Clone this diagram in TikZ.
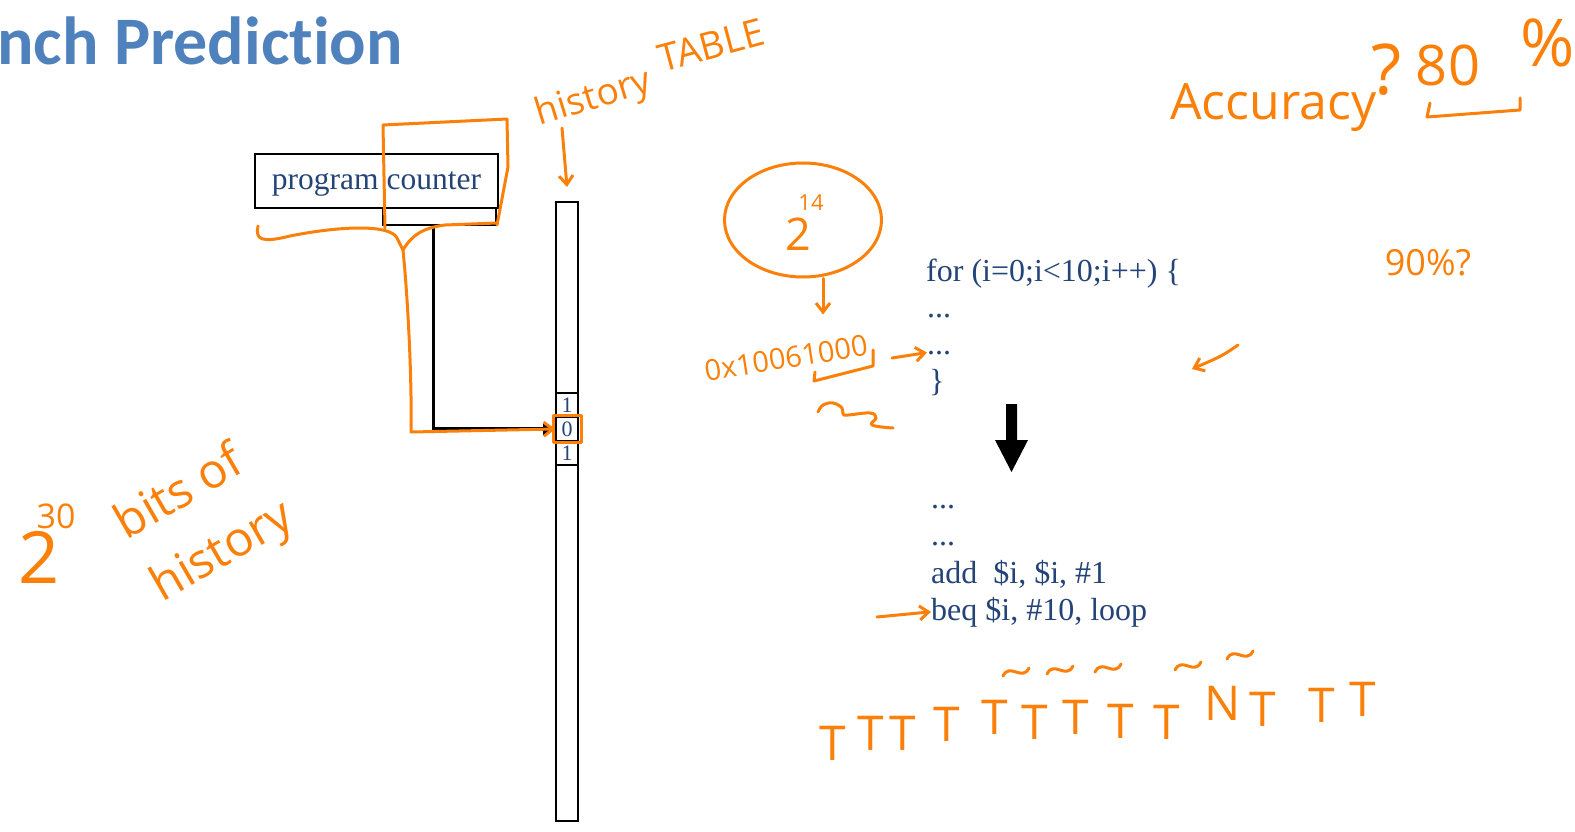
\documentclass[tikz,border=0pt]{standalone}
\usepackage{fontspec}
\setmainfont{Liberation Serif}
\newfontfamily\titlefont[Ligatures=NoCommon]{Carlito}
\newfontfamily\handfont{Open Sans}
\usetikzlibrary{arrows.meta,shapes.geometric}
\definecolor{titleblue}{RGB}{79,129,189}
\definecolor{slidetext}{RGB}{36,68,120}
\definecolor{orangeink}{RGB}{250,128,10}
\newcommand\inksize[1]{\fontsize{#1}{#1}\selectfont}
\tikzset{
  ink/.style={draw=orangeink, line width=3pt, line cap=round, line join=round},
  inkarrow/.style={ink, -{Straight Barb[length=9pt,width=14pt]}},
  inktext/.style={text=orangeink, inner sep=0pt, font=\handfont\inksize{#1}},
  codeline/.style={text=slidetext, anchor=base west, inner sep=0pt, font=\fontsize{32}{37}\selectfont},
  cell/.style={draw, line width=1.6pt, minimum width=22pt, minimum height=24pt, inner sep=0pt, text depth=0pt, text=slidetext, font=\fontsize{22}{24}\selectfont},
}
\begin{document}
\begin{tikzpicture}[x=1pt,y=-1pt]
\useasboundingbox (0,0) rectangle (1575,832);

% slide title
\node[anchor=base west, inner sep=0pt, text=titleblue, font=\titlefont\bfseries\fontsize{68}{72}\selectfont] (title) at (-3,65) {nch Prediction};

% program counter and index bits
\node[draw, line width=2pt, minimum width=243pt, minimum height=54pt, text depth=0pt, text=slidetext, font=\fontsize{31.5}{37}\selectfont] (pc) at (376.5,181) {program counter};
\node[draw, line width=2pt, minimum width=113pt, minimum height=17pt, inner sep=0pt] (pcbits) at (439.5,216.5) {};

% history table
\node[draw, line width=2pt, minimum width=22pt, minimum height=619pt, inner sep=0pt] (histtable) at (567,511.5) {};
\node[cell] (cellA) at (567,405) {1};
\node[cell] (cellB) at (567,429) {0};
\node[cell] (cellC) at (567,453) {1};

\draw[line width=3.5pt, -{Triangle[length=12pt,width=12pt]}] ([xshift=-6pt]pcbits.south) |- (cellB.west);

% loop code
\node[codeline] (forline) at (926,281) {for (i=0;i<10;i++) \{};
\node[codeline] (dotsA) at (927,317) {...};
\node[codeline] (dotsB) at (927,354) {...};
\node[codeline] (brace) at (929,391) {\}};
\fill (1006,404) -- (1017,404) -- (1017,440) -- (1028,440) -- (1011.5,472) -- (995,440) -- (1006,440) -- cycle;
\node[codeline] (dotsC) at (931,508) {...};
\node[codeline] (dotsD) at (931,545) {...};
\node[codeline] (addline) at (931,583) {add\ \ \$i, \$i, \#1};
\node[codeline] (beqline) at (931,620) {beq \$i, \#10, loop};

% ink: index field of the pc
\draw[ink] (258,226) .. controls (255,240) and (262,243) .. (290,236) .. controls (340,226) and (390,224) .. (397,238) -- (403,250) .. controls (410,238) and (420,228) .. (445,225) -- (497,223);
\draw[ink] (385,228) -- (383,125) -- (507,119) -- (508,167) -- (497,225);
\draw[inkarrow] (403,250) .. controls (408,300) and (412,380) .. (411,432) -- (cellB.west);
\node[ink, minimum width=28pt, minimum height=27pt, inner sep=0pt] (cellmark) at (cellB) {};

% ink: history table label
\node[inktext=37, rotate=17] (histword) at (594,99) {history};
\node[inktext=38, rotate=15] (tableword) at (711,45) {TABLE};
\draw[inkarrow] (562,128) -- ([yshift=14pt]histtable.north);

% ink: 2^14 and address
\node[ink, ellipse, minimum width=157pt, minimum height=114pt, inner sep=0pt] (pow) at (803,220) {};
\node[inktext=45] (powbase) at (798,234) {2};
\node[inktext=22] (powexp) at (811,203) {14};
\draw[inkarrow] ([xshift=20pt]pow.south) -- +(0,36);
\node[inktext=29, rotate=9] (addr) at (786,358) {0x10061000};
\draw[ink] (815,372) -- (814,381) -- (873,366) -- (873,350);
\draw[inkarrow] (892,358) -- (dotsB.west);
\draw[ink] plot[smooth, tension=0.7] coordinates {(818,412) (823,405) (833,403) (842,408) (843,414) (848,415) (870,413) (876,418) (872,425) (893,428)};
\draw[inkarrow] (877,617) -- (beqline.west);

% ink: accuracy
\node[inktext=50, anchor=base west] (acc) at (1170,120) {Accuracy};
\node[inktext=70] (accq) at (1387,70) {?};
\node[inktext=56] (eighty) at (1448,65) {80};
\draw[ink] (1430,103) -- (1427,117) -- (1520,110) -- (1520,98);
\node[inktext=66] (pct) at (1548,43) {\%};
\node[inktext=36] (ninety) at (1428,263) {90\%?};
\draw[inkarrow] (1238,345) .. controls (1222,356) .. (1192,369);

% ink: 2^30 bits of history
\node[inktext=72] (twobase) at (39,557) {2};
\node[inktext=34] (twoexp) at (56,516) {30};
\node[inktext=50, rotate=30, align=left, font=\handfont\fontsize{48}{72}\selectfont] (bitsnote) at (205,522) {bits of\\history};

% ink: branch outcomes
\foreach \x/\y/\l [count=\i] in {833/760/T, 871/750/T, 903/750/T, 947/741/T, 995/734/T, 1035/739/T, 1076/734/T, 1121/738/T, 1167/739/T, 1223/720/N, 1263/726/T, 1322/722/T, 1363/716/T}
  \node[inktext=48, anchor=base] (out\i) at (\x,\y) {\l};
\foreach \x/\y in {1016/672, 1060/670, 1108/668, 1188/666, 1240/655}
  \draw[ink] (\x-13,\y+4) .. controls (\x-6,\y-10) and (\x+6,\y+10) .. (\x+13,\y-4);
\end{tikzpicture}
\end{document}
